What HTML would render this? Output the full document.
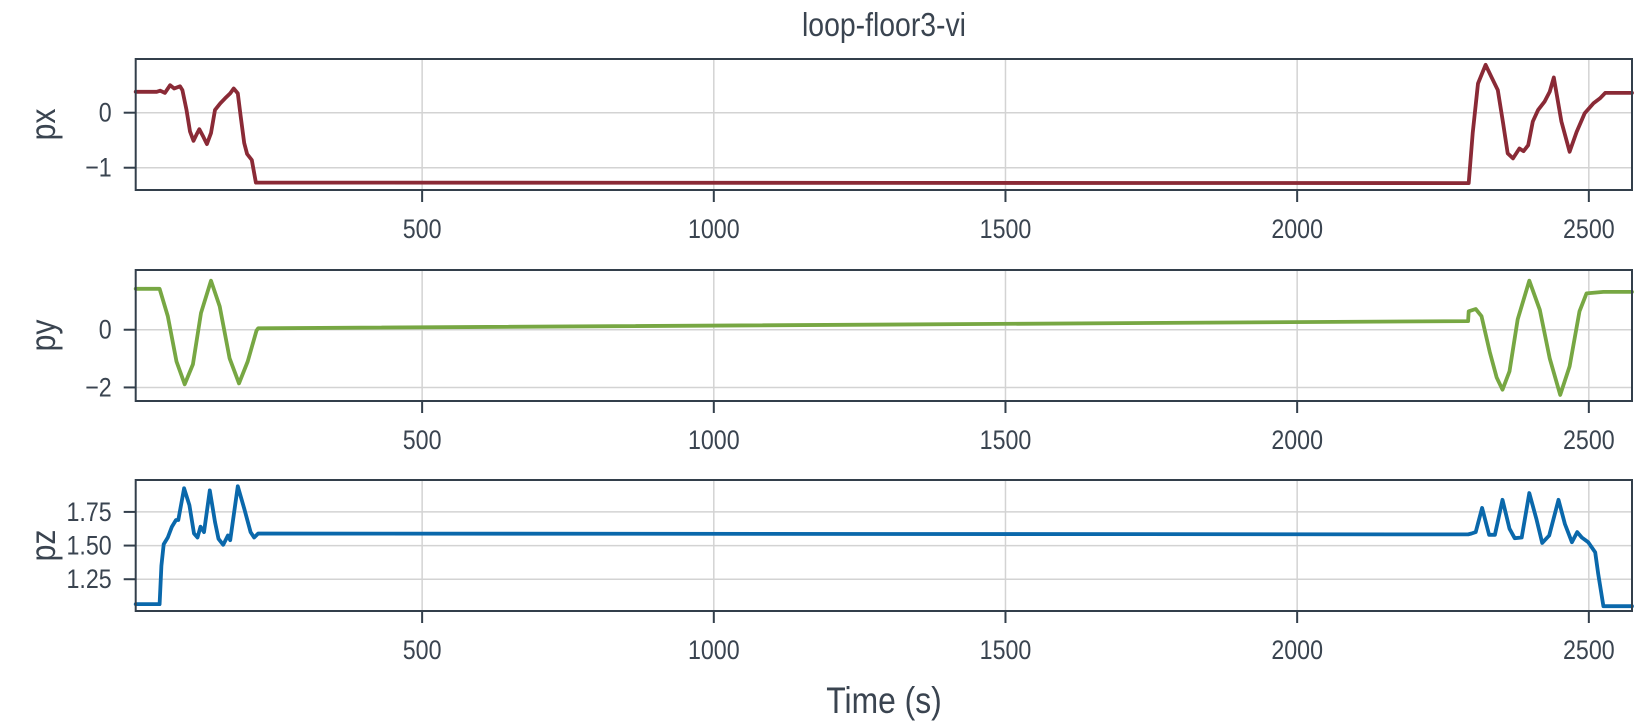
<!DOCTYPE html>
<html><head><meta charset="utf-8"><style>
body{margin:0;background:#fff;}
svg{display:block;font-family:"Liberation Sans Narrow","Liberation Sans",sans-serif;}
</style></head><body>
<svg id="chart" width="1637" height="728"></svg>
<script>
const xTicks=[500,1000,1500,2000,2500];
const pxTime=[9,45,51,59,68,75,85,89,96,102,108,114,118,125,131,138,145,154,162,171,177,184,189,195,200,208,215,2294,2301,2310,2323,2333,2344,2353,2361,2370,2381,2388,2396,2404,2413,2424,2433,2440,2453,2467,2479,2493,2508,2519,2528,2574];
const pxVal=[0.38,0.38,0.40,0.36,0.50,0.44,0.48,0.41,0.05,-0.34,-0.51,-0.38,-0.30,-0.44,-0.57,-0.37,0.05,0.17,0.26,0.35,0.44,0.35,-0.07,-0.55,-0.75,-0.86,-1.27,-1.28,-0.37,0.53,0.87,0.65,0.41,-0.19,-0.74,-0.83,-0.65,-0.70,-0.59,-0.16,0.05,0.20,0.38,0.64,-0.16,-0.71,-0.35,-0.01,0.17,0.26,0.36,0.36];
const pyTime=[9,50,64,79,93,107,121,138,153,170,186,201,216,219,2293,2294,2306,2316,2330,2342,2352,2364,2378,2398,2416,2433,2451,2467,2484,2496,2525,2574];
const pyVal=[1.42,1.42,0.47,-1.10,-1.89,-1.20,0.58,1.70,0.81,-0.99,-1.86,-1.10,-0.03,0.05,0.30,0.64,0.72,0.47,-0.76,-1.66,-2.08,-1.44,0.36,1.70,0.69,-0.99,-2.26,-1.27,0.64,1.26,1.31,1.31];
const pzTime=[9,50,53,57,64,71,78,82,92,101,109,115,120,126,136,145,151,159,167,171,184,195,206,212,219,2293,2299,2306,2317,2329,2339,2352,2364,2373,2385,2398,2410,2420,2432,2448,2459,2471,2480,2488,2499,2511,2516,2525,2574];
const pzVal=[1.065,1.065,1.35,1.51,1.56,1.64,1.69,1.69,1.925,1.80,1.59,1.56,1.64,1.60,1.91,1.675,1.55,1.506,1.575,1.54,1.94,1.775,1.60,1.56,1.59,1.583,1.59,1.60,1.78,1.58,1.58,1.84,1.625,1.555,1.56,1.89,1.70,1.52,1.575,1.84,1.66,1.525,1.60,1.56,1.525,1.45,1.29,1.05,1.05];

const NS='http://www.w3.org/2000/svg';
const svg=document.getElementById('chart');
const X0=135.7,X1=1632,T0=9,T1=2574;
const sx=t=>X0+(t-T0)/(T1-T0)*(X1-X0);
function mk(tag,attrs,parent){const e=document.createElementNS(NS,tag);for(const k in attrs)e.setAttribute(k,attrs[k]);(parent||svg).appendChild(e);return e;}
function txt(parent,x,y,s,anchor,size,rot){
 const g=mk('g',{transform:`translate(${x},${y})`+(rot?' rotate(-90)':'')+' scale(0.86,1)'},parent);
 const t=mk('text',{x:0,y:0,'text-anchor':anchor,'font-size':size,fill:'#3a4450'},g);
 t.textContent=s;return t;
}
const AX='#333f4b';
const panels=[
 {name:'px',top:59,bot:190,vmin:-1.405,vmax:0.976,ticks:[0,-1],labels:['0','\u22121'],t:pxTime,v:pxVal,color:'#8a2a36'},
 {name:'py',top:270,bot:401,vmin:-2.47,vmax:2.07,ticks:[0,-2],labels:['0','\u22122'],t:pyTime,v:pyVal,color:'#77a743'},
 {name:'pz',top:480,bot:611,vmin:1.014,vmax:1.987,ticks:[1.25,1.5,1.75],labels:['1.25','1.50','1.75'],t:pzTime,v:pzVal,color:'#0a68ab'}
];
panels.forEach(p=>{
 const g=mk('g',{});
 
 
 const sy=v=>p.bot-(v-p.vmin)/(p.vmax-p.vmin)*(p.bot-p.top);
 xTicks.forEach(t=>{
  const l=mk('line',{x1:sx(t),x2:sx(t),y1:p.top,y2:p.bot,stroke:'#d3d3d3','stroke-width':1.5},g);
  
  
  mk('line',{x1:sx(t),x2:sx(t),y1:p.bot,y2:p.bot+12,stroke:AX,'stroke-width':2},g);
  const tx=txt(g,sx(t),p.bot+48,String(t),'middle',27);
  
  
 });
 p.ticks.forEach((v,i)=>{
  const y=sy(v);
  const l=mk('line',{x1:X0,x2:X1,y1:y,y2:y,stroke:'#d3d3d3','stroke-width':1.5},g);
  
  
  mk('line',{x1:X0-12,x2:X0,y1:y,y2:y,stroke:AX,'stroke-width':2},g);
  const tx=txt(g,X0-24,y+9,p.labels[i],'end',27);
  
  
 });
 let d='';
 p.t.forEach((t,i)=>{d+=(i?'L':'M')+sx(t).toFixed(1)+','+sy(p.v[i]).toFixed(1);});
 const path=mk('path',{d:d,fill:'none',stroke:p.color,'stroke-width':3.8,'stroke-linejoin':'round','stroke-linecap':'round'},g);
 
 
 const r=mk('rect',{x:X0,y:p.top,width:X1-X0,height:p.bot-p.top,fill:'none',stroke:AX,'stroke-width':2},g);
 
 
 const yl=txt(g,55,(p.top+p.bot)/2,p.name,'middle',35,true);
 
 
});
const title=txt(svg,884,36,'loop-floor3-vi','middle',33);


const xl=txt(svg,884,713,'Time (s)','middle',37);


</script>
</body></html>
